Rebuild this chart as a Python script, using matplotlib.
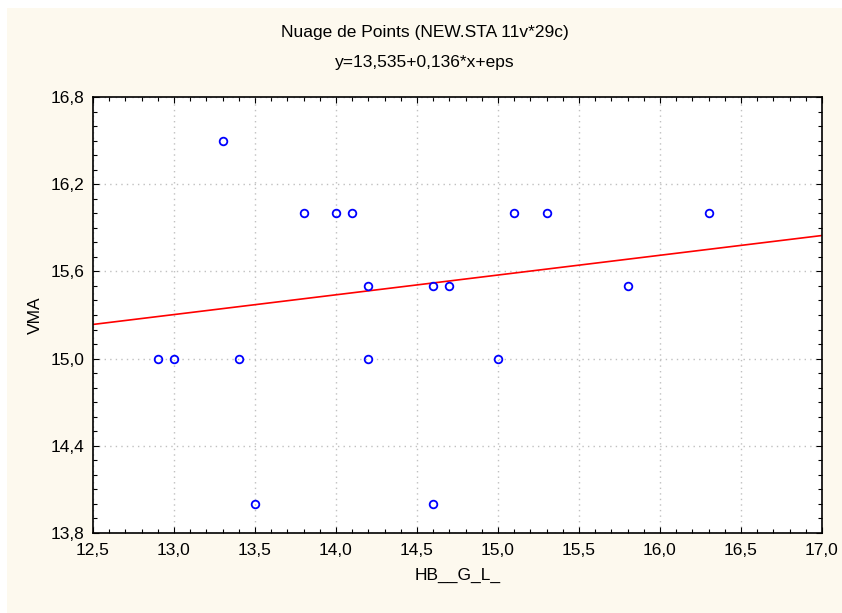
import matplotlib
matplotlib.use('Agg')
import matplotlib.pyplot as plt
from matplotlib.ticker import MultipleLocator, FuncFormatter
from matplotlib.patches import Rectangle

# data
hb = [12.9, 13.0, 13.3, 13.4, 13.5, 13.8, 14.0, 14.1, 14.2, 14.2,
      14.6, 14.6, 14.7, 15.0, 15.1, 15.3, 15.8, 16.3]
vma = [15.0, 15.0, 16.5, 15.0, 14.0, 16.0, 16.0, 16.0, 15.5, 15.0,
       15.5, 14.0, 15.5, 15.0, 16.0, 16.0, 15.5, 16.0]
intercept, slope = 13.535, 0.136
x_range = [12.5, 17.0]
y_range = [13.8, 16.8]

plt.rcParams['font.family'] = ['Liberation Sans', 'DejaVu Sans']

fig = plt.figure(figsize=(8.42, 6.13), dpi=100)
fig.patch.set_facecolor('white')
fig.patches.append(Rectangle((7 / 842, 0), 1, 1 - 8 / 613, transform=fig.transFigure,
                             facecolor='#fdf9ee', edgecolor='none', zorder=-10))

ax = fig.add_axes([93 / 842, 1 - 533 / 613, 729 / 842, 436 / 613])
ax.set_facecolor('white')

ax.plot(x_range, [intercept + slope * x for x in x_range], color='#ff0000', lw=1.2, zorder=2)
ax.plot(hb, vma, 'o', mfc='none', mec='#0000ff', ms=5.5, mew=1.3, zorder=3)

ax.set_xlim(*x_range)
ax.set_ylim(*y_range)
ax.xaxis.set_major_locator(MultipleLocator(0.5))
ax.xaxis.set_minor_locator(MultipleLocator(0.1))
ax.yaxis.set_major_locator(MultipleLocator(0.6))
ax.yaxis.set_minor_locator(MultipleLocator(0.1))
fmt = FuncFormatter(lambda v, p: f'{v:.1f}'.replace('.', ','))
ax.xaxis.set_major_formatter(fmt)
ax.yaxis.set_major_formatter(fmt)
ax.tick_params(which='both', direction='in', top=True, right=True, labelsize=12.5, color='black')
ax.tick_params(which='major', length=4, width=0.8)
ax.tick_params(which='minor', length=3, width=0.8)
ax.tick_params(axis='x', pad=7)
ax.tick_params(axis='y', pad=6)
ax.grid(True, which='major', color='#c0c0c0', ls=(0, (1, 3)), lw=1)
for s in ax.spines.values():
    s.set_linewidth(1.2)

ax.set_xlabel('HB__G_L_', fontsize=12.5, labelpad=7)
ax.set_ylabel('VMA', fontsize=12.5, labelpad=6)
fig.text(0.5 + 4 / 842, 1 - 32 / 613, 'Nuage de Points (NEW.STA 11v*29c)', ha='center', va='center', fontsize=12.5)
fig.text(0.5 + 4 / 842, 1 - 62 / 613, 'y=13,535+0,136*x+eps', ha='center', va='center', fontsize=12.5)

fig.savefig('out.png', dpi=100)
